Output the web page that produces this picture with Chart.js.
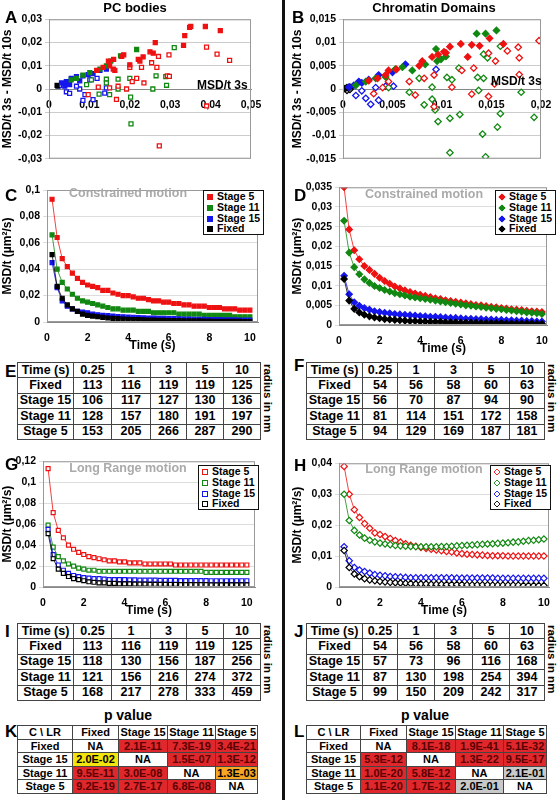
<!DOCTYPE html>
<html><head><meta charset="utf-8">
<script src="https://cdn.jsdelivr.net/npm/chart.js@4"></script>
<style>
body{margin:0;width:559px;height:800px;background:#fff;position:relative;overflow:hidden;font-family:"Liberation Sans",Arial,sans-serif}
.abs{position:absolute}
.lbl{position:absolute;font-weight:bold;font-size:17px}
.ttl{position:absolute;font-weight:bold;font-size:13px;transform:translateX(-50%);white-space:nowrap}
.gray{position:absolute;font-weight:bold;font-size:12.5px;color:#aaa;transform:translateX(-50%);white-space:nowrap}
.leg{position:absolute;border:1.5px solid #111;background:#fff;font-weight:bold;font-size:10.5px;padding:0 3px;line-height:10.8px}
.leg div{white-space:nowrap}
.mk{display:inline-block;width:6px;height:6px;margin-right:4px;vertical-align:0px;box-sizing:border-box}
.dm{transform:rotate(45deg) scale(.85)}
table{border-collapse:collapse;position:absolute;font-weight:bold;font-size:12.5px;table-layout:fixed}
td{border:1px solid #444;text-align:center;padding:0;white-space:nowrap;line-height:13px;overflow:hidden}
.pt td{font-size:11px;line-height:12px}
.rad{position:absolute;font-weight:bold;font-size:11.5px;line-height:13px;transform:rotate(90deg);transform-origin:left top;white-space:nowrap}
canvas{position:absolute}
</style></head><body>
<div class="abs" style="left:282px;top:0;width:3px;height:800px;background:#111"></div>
<script>
// ---------------- DATA ----------------
const times=[0.25,0.5,0.75,1,1.25,1.5,1.75,2,2.25,2.5,2.75,3,3.25,3.5,3.75,4,4.25,4.5,4.75,5,5.25,5.5,5.75,6,6.25,6.5,6.75,7,7.25,7.5,7.75,8,8.25,8.5,8.75,9,9.25,9.5,9.75,10];
const timeTicks=[0,2,4,6,8,10];
const stageNames=["Stage 5","Stage 11","Stage 15","Fixed"];
// C: PC bodies constrained
const pcC_s5=[0.093,0.064,0.048,0.042,0.037,0.033,0.030,0.028,0.027,0.026,0.024,0.024,0.022,0.021,0.020,0.020,0.019,0.018,0.018,0.017,0.016,0.016,0.015,0.015,0.014,0.014,0.013,0.013,0.012,0.012,0.012,0.011,0.011,0.011,0.010,0.010,0.010,0.009,0.009,0.009];
const pcC_s11=[0.066,0.040,0.030,0.025,0.021,0.018,0.016,0.015,0.014,0.013,0.012,0.011,0.010,0.010,0.009,0.009,0.009,0.008,0.008,0.008,0.007,0.007,0.007,0.007,0.007,0.006,0.006,0.006,0.006,0.006,0.005,0.005,0.005,0.005,0.005,0.005,0.004,0.004,0.004,0.004];
const pcC_s15=[0.045,0.026,0.016,0.012,0.010,0.008,0.0075,0.007,0.006,0.0055,0.005,0.0048,0.0045,0.0042,0.004,0.0038,0.0036,0.0034,0.0032,0.003,0.003,0.0028,0.0027,0.0026,0.0025,0.0024,0.0023,0.0022,0.0021,0.002,0.002,0.0019,0.0018,0.0018,0.0017,0.0016,0.0016,0.0015,0.0015,0.0014];
const pcC_fix=[0.051,0.027,0.018,0.013,0.010,0.008,0.006,0.005,0.0045,0.004,0.0035,0.003,0.0028,0.0025,0.0023,0.002,0.0019,0.0018,0.0016,0.0015,0.0014,0.0013,0.0012,0.0011,0.001,0.001,0.0009,0.0009,0.0008,0.0008,0.0007,0.0007,0.0006,0.0006,0.0006,0.0005,0.0005,0.0005,0.0004,0.0004];
// D: chromatin constrained
const chC_s5=[0.035,0.0243,0.019,0.0167,0.015,0.014,0.013,0.012,0.0112,0.0105,0.0098,0.0093,0.0088,0.0084,0.008,0.0077,0.0074,0.0071,0.0068,0.0066,0.0063,0.0061,0.0059,0.0057,0.0055,0.0053,0.0051,0.005,0.0048,0.0046,0.0045,0.0043,0.0042,0.004,0.0039,0.0038,0.0036,0.0035,0.0034,0.0033];
const chC_s11=[0.0265,0.0184,0.0147,0.0129,0.0116,0.0107,0.0099,0.0094,0.0089,0.0085,0.0081,0.0078,0.0075,0.0072,0.007,0.0068,0.0066,0.0064,0.0062,0.006,0.0058,0.0056,0.0054,0.0052,0.005,0.0049,0.0047,0.0046,0.0044,0.0043,0.0041,0.004,0.0038,0.0037,0.0035,0.0034,0.0032,0.0031,0.003,0.0028];
const chC_s15=[0.0125,0.0078,0.0058,0.0049,0.0043,0.0039,0.0035,0.0033,0.0031,0.003,0.0028,0.0027,0.0026,0.0025,0.0024,0.0023,0.0022,0.0021,0.0021,0.002,0.0019,0.0018,0.0018,0.0017,0.0016,0.0016,0.0015,0.0015,0.0014,0.0014,0.0013,0.0013,0.0012,0.0012,0.0011,0.0011,0.001,0.001,0.0009,0.0009];
const chC_fix=[0.0117,0.0062,0.0041,0.0032,0.0026,0.0022,0.0019,0.0017,0.0015,0.0014,0.0013,0.0012,0.0011,0.001,0.001,0.0009,0.0009,0.0008,0.0008,0.0008,0.0007,0.0007,0.0007,0.0006,0.0006,0.0006,0.0006,0.0005,0.0005,0.0005,0.0005,0.0005,0.0004,0.0004,0.0004,0.0004,0.0004,0.0004,0.0003,0.0003];
// G: PC bodies long range
const pcL_s5=[0.113,0.071,0.054,0.047,0.040,0.036,0.033,0.031,0.029,0.028,0.027,0.026,0.025,0.025,0.024,0.024,0.023,0.023,0.023,0.022,0.022,0.022,0.022,0.022,0.022,0.021,0.021,0.021,0.021,0.021,0.021,0.021,0.021,0.021,0.021,0.021,0.021,0.021,0.021,0.021];
const pcL_s11=[0.059,0.038,0.029,0.025,0.022,0.020,0.018,0.017,0.016,0.016,0.015,0.015,0.015,0.015,0.015,0.015,0.015,0.015,0.015,0.015,0.015,0.015,0.015,0.015,0.015,0.015,0.015,0.015,0.015,0.015,0.015,0.014,0.014,0.014,0.014,0.014,0.014,0.014,0.014,0.014];
const pcL_s15=[0.055,0.031,0.021,0.016,0.013,0.011,0.010,0.009,0.0085,0.008,0.008,0.0075,0.007,0.007,0.007,0.007,0.0068,0.0068,0.0066,0.0066,0.0065,0.0065,0.0064,0.0064,0.0063,0.0063,0.0062,0.0062,0.0062,0.0061,0.0061,0.0061,0.006,0.006,0.006,0.006,0.006,0.006,0.006,0.006];
const pcL_fix=[0.051,0.027,0.017,0.013,0.010,0.008,0.007,0.006,0.005,0.0045,0.004,0.004,0.0035,0.0035,0.003,0.003,0.003,0.0028,0.0028,0.0027,0.0026,0.0026,0.0025,0.0025,0.0024,0.0024,0.0023,0.0023,0.0023,0.0022,0.0022,0.0022,0.0021,0.0021,0.0021,0.002,0.002,0.002,0.002,0.002];
// H: chromatin long range
const chL_s5=[0.039,0.030,0.025,0.0225,0.0205,0.019,0.0175,0.017,0.0163,0.0157,0.015,0.0145,0.014,0.0135,0.0132,0.0128,0.0125,0.0122,0.012,0.0117,0.0115,0.0113,0.011,0.0108,0.0106,0.0105,0.0104,0.0103,0.0102,0.0101,0.0101,0.0101,0.0100,0.0100,0.0100,0.0100,0.0100,0.0100,0.0100,0.0100];
const chL_s11=[0.030,0.0215,0.0183,0.0168,0.0158,0.0151,0.0146,0.0142,0.0139,0.0137,0.0134,0.0133,0.0132,0.0131,0.013,0.013,0.013,0.013,0.013,0.0131,0.0131,0.0132,0.0133,0.0134,0.0135,0.0136,0.0137,0.0138,0.0139,0.014,0.0141,0.0142,0.0143,0.0145,0.0146,0.0148,0.015,0.0151,0.0153,0.0155];
const chL_s15=[0.013,0.0085,0.0063,0.0055,0.005,0.0045,0.004,0.0038,0.0036,0.0034,0.0033,0.0032,0.0031,0.003,0.003,0.003,0.003,0.003,0.003,0.003,0.003,0.003,0.0029,0.0029,0.0029,0.0029,0.0029,0.0029,0.0029,0.0029,0.0028,0.0028,0.0028,0.0028,0.0028,0.0028,0.0028,0.0028,0.0028,0.0028];
const chL_fix=[0.0118,0.0063,0.0042,0.0033,0.0027,0.0023,0.002,0.0018,0.0016,0.0015,0.0014,0.0013,0.0012,0.0011,0.001,0.001,0.001,0.0009,0.0009,0.0009,0.0008,0.0008,0.0008,0.0008,0.0007,0.0007,0.0007,0.0007,0.0007,0.0006,0.0006,0.0006,0.0006,0.0006,0.0006,0.0005,0.0005,0.0005,0.0005,0.0005];
// A: PC bodies scatter [MSD/t 3s, MSD/t 3s - MSD/t 10s]
const pcA_s5c=[[0.0348,0.0265],[0.0351,0.027],[0.0336,0.023],[0.0333,0.0188],[0.0387,0.0269],[0.0424,0.0251],[0.0263,0.020],[0.025,0.016],[0.0258,0.0154],[0.0233,0.0138],[0.0221,0.0127],[0.0225,0.012],[0.020,0.0104],[0.0185,0.0147],[0.018,0.014],[0.016,0.0127],[0.0147,0.012],[0.015,0.010],[0.0159,0.0086],[0.0134,0.0093],[0.0118,0.008],[0.0163,0.008]];
const pcA_s11c=[[0.0217,0.017],[0.0177,0.0143],[0.0153,0.012],[0.0142,0.010],[0.0126,0.0086],[0.0101,0.007],[0.0084,0.006],[0.0068,0.0046],[0.0055,0.0039]];
const pcA_s15c=[[0.0031,0.0026],[0.0043,0.0032],[0.0055,0.0046],[0.0068,0.0053],[0.0084,0.0057],[0.0097,0.0062],[0.0109,0.0066],[0.0126,0.008],[0.0142,0.0086],[0.0051,0.0019],[0.0039,0.0012],[0.0076,0.0035]];
const pcA_fixc=[[0.002,0.0016]];
const pcA_s5l=[[0.039,0.018],[0.0416,0.015],[0.0447,0.0123],[0.0297,0.0147],[0.0293,0.0057],[0.0298,0.0054],[0.0271,0.014],[0.0254,0.0113],[0.0267,0.0093],[0.0229,0.0093],[0.020,0.0093],[0.0217,0.0046],[0.0235,0.0026],[0.0206,0.0032],[0.0192,0],[0.0171,0.0012],[0.015,0.0005],[0.0122,0.0008],[0.0097,-0.0024],[0.0167,-0.0045],[0.039,-0.0073],[0.0273,-0.0245]];
const pcA_s11l=[[0.031,0.0178],[0.0289,0.0053],[0.0291,0.0016],[0.0265,0.0057],[0.0257,0],[0.020,0.0046],[0.0171,0.0042],[0.0142,0.0042],[0.0142,0.0026],[0.0171,0],[0.015,-0.0024],[0.0124,-0.0022],[0.0202,-0.0035],[0.0203,-0.015],[0.0105,0.0039],[0.0093,0.0019]];
const pcA_s15l=[[0.0043,-0.0012],[0.0051,-0.0019],[0.0076,0],[0.0089,-0.0024],[0.0109,-0.0046],[0.0084,-0.0049],[0.0138,-0.0018],[0.0142,0.0005],[0.0119,0.0046],[0.0101,0.0039],[0.0068,0.0012],[0.0026,0.0015]];
const pcA_fixl=[[0.0022,0.0012]];
// B: chromatin scatter
const chB_s5c=[[0.0119,0.0097],[0.013,0.0095],[0.0138,0.0093],[0.0148,0.0109],[0.0162,0.0097],[0.0108,0.0091],[0.0102,0.008],[0.0104,0.0078],[0.0096,0.0074],[0.009,0.0069],[0.008,0.006],[0.0126,0.0069],[0.0054,0.0042],[0.0046,0.004],[0.0043,0.003],[0.0035,0.0023],[0.0026,0.0018],[0.0077,0.005]];
const chB_s11c=[[0.0155,0.0126],[0.0135,0.0119],[0.0144,0.0119],[0.0094,0.0086],[0.0104,0.007],[0.0099,0.0064],[0.0095,0.006],[0.0083,0.0053],[0.007,0.004],[0.006,0.0047],[0.0053,0.0043],[0.0043,0.0026],[0.0033,0.0023],[0.0023,0.0016],[0.0013,0.0008]];
const chB_s15c=[[0.0063,0.0053],[0.005,0.0036],[0.0036,0.003],[0.0026,0.002],[0.0019,0.0013],[0.0011,0.0008],[0.0006,0.0004],[0.0016,0.0016]];
const chB_fixc=[[0.0002,0.0001],[0.0007,0.0004],[0.0004,0.0003]];
const chB_s5l=[[0.0198,0.0104],[0.0177,0.009],[0.0166,0.0082],[0.0147,0.0077],[0.0154,0.006],[0.0178,0.0067],[0.0178,0.0031],[0.0132,0.0045],[0.012,0.004],[0.013,-0.0011],[0.0147,-0.0016],[0.011,0.0004],[0.0092,0.003],[0.0082,0.0023],[0.0073,-0.0013],[0.0067,0.0016],[0.0092,-0.0038],[0.0153,0.0011],[0.0046,0.0016],[0.004,0.0003],[0.0031,-0.001]];
const chB_s11l=[[0.0159,0.0092],[0.0142,0.0075],[0.0146,0.0067],[0.0136,0.0025],[0.0142,0.0023],[0.0137,-0.0003],[0.018,-0.0007],[0.0159,-0.0053],[0.0156,-0.0082],[0.0193,-0.0061],[0.0141,-0.0097],[0.0144,-0.0146],[0.0118,-0.0055],[0.0108,-0.0063],[0.0108,-0.0137],[0.0096,-0.007],[0.0093,-0.0045],[0.009,-0.0022],[0.0082,-0.0034],[0.0117,0.0045],[0.0105,0.0025],[0.011,0.002],[0.009,0.0004],[0.0067,-0.0007],[0.0046,0.0003],[0.0077,0.0023]];
const chB_s15l=[[0.0094,0.0042],[0.0051,0.0006],[0.0043,0.0006],[0.0028,-0.0033],[0.0023,-0.002],[0.0013,-0.0014],[0.0036,-0.0024],[0.0033,0.0003],[0.0019,-0.0004]];
const chB_fixl=[[0.0004,-0.0003],[0.0007,-0.0001]];
// Tables
const tableHead=["Time (s)","0.25","1","3","5","10"];
const rowNames=["Fixed","Stage 15","Stage 11","Stage 5"];
const tabE=[[113,116,119,119,125],[106,117,127,130,136],[128,157,180,191,197],[153,205,266,287,290]];
const tabF=[[54,56,58,60,63],[56,70,87,94,90],[81,114,151,172,158],[94,129,169,187,181]];
const tabI=[[113,116,119,119,125],[118,130,156,187,256],[121,156,216,274,372],[168,217,278,333,459]];
const tabJ=[[54,56,58,60,63],[57,73,96,116,168],[87,130,198,254,394],[99,150,209,242,317]];
const pHead=["C \\ LR","Fixed","Stage 15","Stage 11","Stage 5"];
const pK=[["NA","2.1E-11","7.3E-19","3.4E-21"],["2.0E-02","NA","1.5E-07","1.3E-12"],["9.5E-11","3.0E-08","NA","1.3E-03"],["9.2E-19","2.7E-17","6.8E-08","NA"]];
const pL=[["NA","8.1E-18","1.9E-41","5.1E-32"],["5.3E-12","NA","1.3E-22","9.5E-17"],["1.0E-20","5.8E-12","NA","2.1E-01"],["1.1E-20","1.7E-12","2.0E-01","NA"]];

// ---------------- DRAWING ----------------
const COL={s5:"#ee1111",s11:"#118811",s15:"#1515ee",fix:"#000000"};
const FONT="'Liberation Sans', Arial, sans-serif";
Chart.defaults.font.family=FONT;
Chart.defaults.font.weight="bold";
Chart.defaults.color="#000";
const frame={id:"frame",afterDatasetsDraw(c){const a=c.chartArea,x=c.ctx;x.save();x.strokeStyle="#999";x.lineWidth=1;x.strokeRect(a.left+.5,a.top+.5,a.right-a.left-1,a.bottom-a.top-1);x.restore();}};
function el(tag,cls,style,html){const e=document.createElement(tag);if(cls)e.className=cls;e.style.cssText=style;if(html!==undefined)e.innerHTML=html;document.body.appendChild(e);return e;}
function canvas(l,t,w,h){const c=el("canvas","","left:"+l+"px;top:"+t+"px;width:"+w+"px;height:"+h+"px");c.width=w;c.height=h;return c;}
const fmt=v=>String(+(+v).toFixed(4)).replace(".",",");
const pts=a=>a.map(p=>({x:p[0],y:p[1]}));
const ser=v=>times.map((t,i)=>({x:t,y:v[i]}));

function scatterChart(l,t,w,h,yW,padR,xmax,xstep,ymin,ymax,ystep,sets,shape,rad){
  const ds=[];
  sets.forEach(s=>ds.push({data:pts(s[0]),pointStyle:shape,radius:rad,backgroundColor:s[2]?s[1]:"#fff",borderColor:s[1],borderWidth:1.3}));
  new Chart(canvas(l,t,w,h),{type:"scatter",data:{datasets:ds},plugins:[frame],
    options:{responsive:false,animation:false,layout:{padding:{top:7,right:padR,bottom:2}},plugins:{legend:{display:false},tooltip:{enabled:false}},
    scales:{x:{type:"linear",position:{y:0},min:0,max:xmax,ticks:{stepSize:xstep,callback:fmt,font:{size:10.5},padding:2},grid:{display:false,drawTicks:true},border:{color:"#888"}},
            y:{min:ymin,max:ymax,ticks:{stepSize:ystep,callback:fmt,font:{size:10.5}},grid:{color:"#ccc",drawTicks:true,tickLength:4},border:{color:"#888"},
               title:{display:true,text:"MSD/t 3s - MSD/t 10s",font:{size:12},padding:0},afterFit(s){s.width=yW;}}}}});
}
function lineChart(l,t,w,h,yW,padT,padR,xmaxv,ymax,ystep,sets,shape,rad,filled){
  const ds=sets.map(s=>({data:ser(s[0]),pointStyle:shape,radius:rad,borderColor:s[1],pointBorderColor:s[1],pointBackgroundColor:filled?s[1]:"#fff",borderWidth:0.8,pointBorderWidth:1.2,tension:0}));
  new Chart(canvas(l,t,w,h),{type:"line",data:{datasets:ds},plugins:[frame],
    options:{responsive:false,animation:false,layout:{padding:{top:padT,right:padR}},plugins:{legend:{display:false},tooltip:{enabled:false}},
    scales:{x:{type:"linear",min:0,max:xmaxv,ticks:{font:{size:10.5},padding:2},afterBuildTicks(s){s.ticks=timeTicks.map(v=>({value:v}));},grid:{display:false},border:{color:"#888"},
               title:{display:true,text:"Time (s)",font:{size:12},padding:{top:-1,bottom:0}},afterFit(s){s.height=31;}},
            y:{min:0,max:ymax,ticks:{stepSize:ystep,callback:fmt,font:{size:10.5}},grid:{color:"#ddd",tickLength:4},border:{color:"#888"},
               title:{display:true,text:"MSD/t (µm²/s)",font:{size:12},padding:0},afterFit(s){s.width=yW;}}}}});
}
// A & B
scatterChart(0,10,270,158,49,19,0.05,0.01,-0.03,0.03,0.01,
 [[pcA_s5c,COL.s5,1],[pcA_s11c,COL.s11,1],[pcA_s15c,COL.s15,1],[pcA_fixc,COL.fix,1],[pcA_s5l,COL.s5,0],[pcA_s11l,COL.s11,0],[pcA_s15l,COL.s15,0],[pcA_fixl,COL.fix,0]],"rect",2.8);
scatterChart(290,10,269,158,53,18,0.02,0.005,-0.015,0.015,0.005,
 [[chB_s5c,COL.s5,1],[chB_s11c,COL.s11,1],[chB_s15c,COL.s15,1],[chB_fixc,COL.fix,1],[chB_s5l,COL.s5,0],[chB_s11l,COL.s11,0],[chB_s15l,COL.s15,0],[chB_fixl,COL.fix,0]],"rectRot",3.2);
// C D G H (draw back-to-front: fixed, s15, s11, s5)
lineChart(0,180,272,173,47,10,14,10.4,0.1,0.01,[[pcC_fix,COL.fix],[pcC_s15,COL.s15],[pcC_s11,COL.s11],[pcC_s5,COL.s5]],"rect",2.8,true);
lineChart(290,178,269,178,49,9,12,10.25,0.035,0.005,[[chC_fix,COL.fix],[chC_s15,COL.s15],[chC_s11,COL.s11],[chC_s5,COL.s5]],"rectRot",3.2,true);
lineChart(0,452,272,166,43,8,17,10.4,0.12,0.02,[[pcL_fix,COL.fix],[pcL_s15,COL.s15],[pcL_s11,COL.s11],[pcL_s5,COL.s5]],"rect",2.8,false);
lineChart(290,454,269,164,49,9,10,10.25,0.04,0.005,[[chL_fix,COL.fix],[chL_s15,COL.s15],[chL_s11,COL.s11],[chL_s5,COL.s5]],"rectRot",3.2,false);

// texts
[["A",5,8],["B",292,8],["C",5,186],["D",294,186],["E",5,362],["F",294,356],["G",5,455],["H",294,456],["I",5,622],["J",294,622],["K",5,722],["L",294,722]]
 .forEach(a=>el("div","lbl","left:"+a[1]+"px;top:"+a[2]+"px",a[0]));
el("div","ttl","left:135px;top:0px","PC bodies");
el("div","ttl","left:434px;top:0px","Chromatin Domains");
el("div","abs","left:197px;top:78px;font-weight:bold;font-size:12px","MSD/t 3s");
el("div","abs","left:491px;top:74px;font-weight:bold;font-size:12px","MSD/t 3s");
el("div","gray","left:128px;top:186px","Constrained motion");
el("div","gray","left:424px;top:187px","Constrained motion");
el("div","gray","left:128px;top:461px","Long Range motion");
el("div","gray","left:424px;top:462px","Long Range motion");
function legend(l,t,dia,filled){
  const cs=[COL.s5,COL.s11,COL.s15,COL.fix];
  const h=stageNames.map((n,i)=>'<div><span class="mk'+(dia?' dm':'')+'" style="border:1.4px solid '+cs[i]+';background:'+(filled?cs[i]:'#fff')+'"></span>'+n+'</div>').join("");
  el("div","leg","left:"+l+"px;top:"+t+"px",h);
}
legend(203,190,false,true);legend(495,190,true,true);legend(198,465,false,false);legend(490,465,true,false);

function numTable(l,t,colW,rowH,data){
  const total=colW.reduce((a,b)=>a+b,0);
  let h="<colgroup>"+colW.map(w=>'<col style="width:'+w+'px">').join("")+"</colgroup><tr>"+tableHead.map(x=>'<td style="height:'+rowH+'px">'+x+'</td>').join("")+"</tr>";
  data.forEach((r,i)=>{h+="<tr><td style='height:"+rowH+"px'>"+rowNames[i]+"</td>"+r.map(v=>"<td>"+v+"</td>").join("")+"</tr>";});
  const tb=el("table","","left:"+l+"px;top:"+t+"px;width:"+total+"px",h);
  const right=l+tb.offsetWidth;
  el("div","rad","left:"+(right+13)+"px;top:"+(t+2)+"px","radius in nm");
}
const cwL=[56,38,39,36,37,37], cwR=[56,35,37,38,37,35];
numTable(17,362,cwL,14.4,tabE);
numTable(306,362,cwR,14.4,tabF);
numTable(17,623,cwL,14.4,tabI);
numTable(306,623,cwR,14.4,tabJ);
function pColor(v){const n=parseFloat(v);if(isNaN(n))return null;if(n<1e-4)return["#e0282c","#5a0000"];if(n<5e-3)return["#f5a623","#000"];if(n<0.05)return["#f2e40c","#000"];return["#c9c9c9","#000"];}
function pTable(l,t,colW,data){
  const total=colW.reduce((a,b)=>a+b,0);
  let h="<colgroup>"+colW.map(w=>'<col style="width:'+w+'px">').join("")+"</colgroup><tr>"+pHead.map(x=>'<td style="height:12.5px">'+x+'</td>').join("")+"</tr>";
  data.forEach((r,i)=>{h+="<tr><td style='height:12.5px'>"+rowNames[i]+"</td>"+r.map(v=>{const c=pColor(v);return c?'<td style="background:'+c[0]+';color:'+c[1]+'">'+v+'</td>':'<td>'+v+'</td>';}).join("")+"</tr>";});
  el("table","pt","left:"+l+"px;top:"+t+"px;width:"+total+"px",h);
}
el("div","ttl","left:128px;top:707px;font-size:14px;font-weight:bold","p value");
el("div","ttl","left:425px;top:707px;font-size:14px;font-weight:bold","p value");
pTable(17,725,[55,46,49,48,42],pK);
pTable(306,725,[54,46,49,48,43],pL);
</script>
</body></html>
